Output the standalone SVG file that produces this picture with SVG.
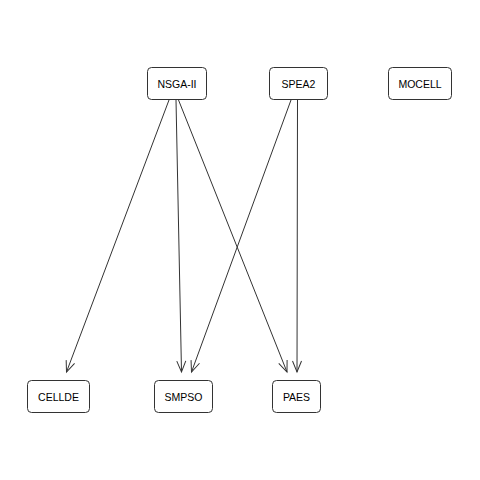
<svg xmlns="http://www.w3.org/2000/svg" width="480" height="480" viewBox="0 0 480 480">
  <style>
    .node rect { fill: #ffffff; stroke: #333333; stroke-width: 1; }
    .node text { font-family: "Liberation Sans", Arial, sans-serif; font-size: 10.5px; fill: #000000; text-anchor: middle; dominant-baseline: central; }
    .edge { stroke: #333333; stroke-width: 1; fill: none; marker-end: url(#arrow); }
  </style>
  <defs>
    <marker id="arrow" markerUnits="userSpaceOnUse" markerWidth="14" markerHeight="12" viewBox="-12 -6 14 12" refX="0" refY="0" orient="auto">
      <path d="M-11,-4.5 L0,0 L-11,4.5" fill="none" stroke="#333333" stroke-width="1"/>
    </marker>
  </defs>
  <rect width="480" height="480" fill="#ffffff"/>

  <g id="connectors">
    <line class="edge" x1="169" y1="100" x2="66.5" y2="372"/>
    <line class="edge" x1="176" y1="100" x2="181.5" y2="372"/>
    <line class="edge" x1="178.5" y1="100" x2="287" y2="372"/>
    <line class="edge" x1="291" y1="100" x2="191.5" y2="372"/>
    <line class="edge" x1="297.5" y1="100" x2="297" y2="372"/>
  </g>

  <g id="NSGA-II" class="node">
    <rect x="147.5" y="67.5" width="59" height="32" rx="4"/>
    <text x="177" y="83.5">NSGA-II</text>
  </g>
  <g id="SPEA2" class="node">
    <rect x="269.5" y="67.5" width="58" height="32" rx="4"/>
    <text x="298.5" y="83.5">SPEA2</text>
  </g>
  <g id="MOCELL" class="node">
    <rect x="388.5" y="67.5" width="63" height="32" rx="4"/>
    <text x="420" y="83.5">MOCELL</text>
  </g>
  <g id="CELLDE" class="node">
    <rect x="27.5" y="380.5" width="62" height="32" rx="4"/>
    <text x="58.5" y="396.5">CELLDE</text>
  </g>
  <g id="SMPSO" class="node">
    <rect x="154.5" y="380.5" width="58" height="32" rx="4"/>
    <text x="183.5" y="396.5">SMPSO</text>
  </g>
  <g id="PAES" class="node">
    <rect x="272.5" y="380.5" width="48" height="32" rx="4"/>
    <text x="296.5" y="396.5">PAES</text>
  </g>
</svg>
